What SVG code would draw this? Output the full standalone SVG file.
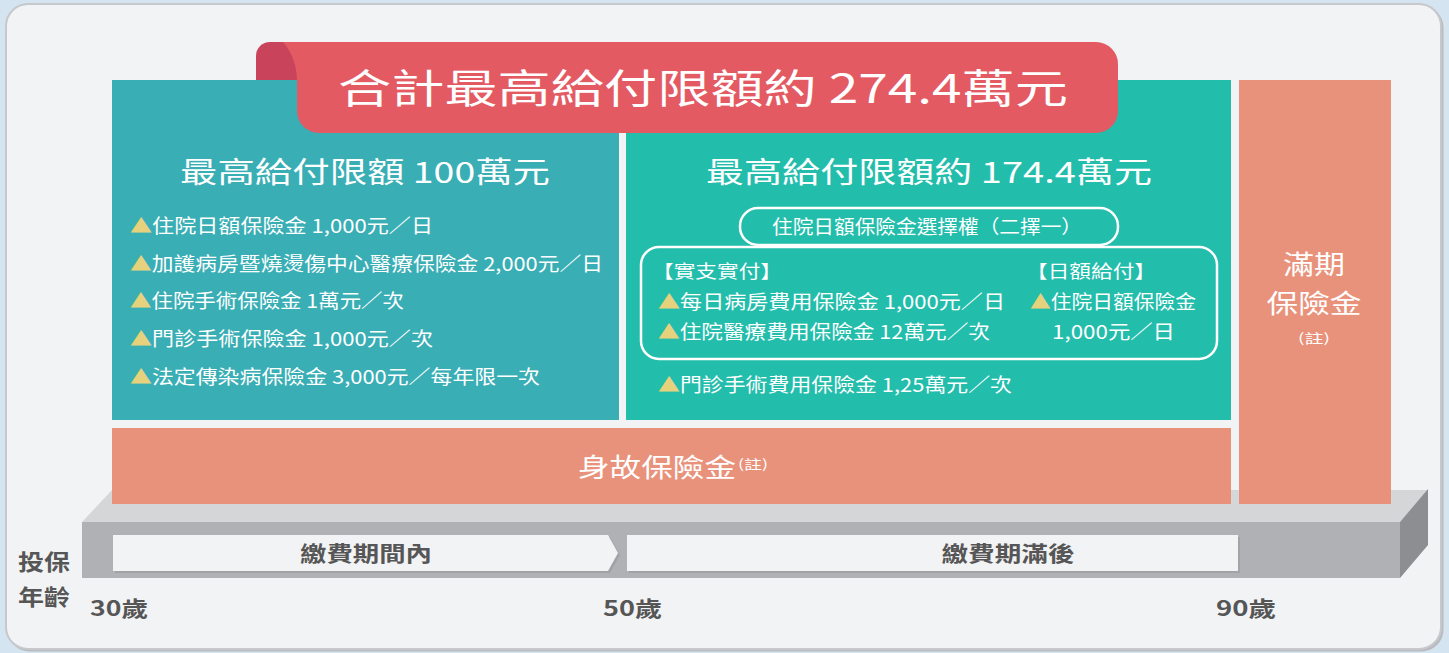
<svg xmlns="http://www.w3.org/2000/svg" width="1449" height="653" viewBox="0 0 1449 653">
<style>
.cjk{font-family:"Noto Sans CJK TC","Noto Sans CJK SC","Liberation Sans",sans-serif;}
.w{fill:#ffffff;}
.g{fill:#565656;font-weight:bold;}
.tri{fill:#e6d27c;}
.li{font-size:19px;}
.ttl{font-size:29px;}
.out{fill:none;stroke:#ffffff;stroke-width:2.5;}
</style>
<rect x="0" y="0" width="1449" height="653" fill="#d4e4f1"/>
<g id="frame">
<rect x="7.5" y="5.5" width="1436" height="646" rx="22" fill="#b9bbbe"/>
<rect x="6" y="4" width="1435" height="645" rx="22" fill="#f2f3f5" stroke="#c6c8cb" stroke-width="2"/>
</g>
<g id="platform">
<polygon points="82,522 112,490 1428,490 1400,522" fill="#d5d6d8"/>
<rect x="82" y="522" width="1318" height="56" fill="#b0b1b4"/>
<polygon points="1400,522 1428,489 1428,545 1400,578" fill="#8d8e91"/>
</g>
<g id="band-pay">
<polygon points="115,537 610,537 620,555 610,573 115,573" fill="#a2a3a6"/>
<polygon points="113,535 608,535 618,553 608,571 113,571" fill="#f2f3f5"/>
<text class="cjk g" x="366" y="561" font-size="21" text-anchor="middle" textLength="132" lengthAdjust="spacingAndGlyphs">繳費期間內</text>
</g>
<g id="band-after">
<rect x="629" y="537" width="611" height="36" fill="#a2a3a6"/>
<rect x="627" y="535" width="611" height="36" fill="#f2f3f5"/>
<text class="cjk g" x="1008" y="561" font-size="21" text-anchor="middle" textLength="133" lengthAdjust="spacingAndGlyphs">繳費期滿後</text>
</g>
<g id="age-labels">
<text class="cjk g" x="18" y="570" font-size="22" textLength="52" lengthAdjust="spacingAndGlyphs">投保</text>
<text class="cjk g" x="18" y="605" font-size="22" textLength="52" lengthAdjust="spacingAndGlyphs">年齡</text>
<text class="cjk g" x="90" y="616" font-size="21" textLength="58" lengthAdjust="spacingAndGlyphs">30歲</text>
<text class="cjk g" x="603" y="616" font-size="21" textLength="59" lengthAdjust="spacingAndGlyphs">50歲</text>
<text class="cjk g" x="1216" y="616" font-size="21" textLength="60" lengthAdjust="spacingAndGlyphs">90歲</text>
</g>
<g id="death-benefit">
<rect x="112" y="428" width="1119" height="76" fill="#e9927b"/>
<text class="cjk w" x="578" y="477" font-size="26" textLength="158" lengthAdjust="spacingAndGlyphs">身故保險金</text>
<text class="cjk w" x="738" y="469" font-size="13" textLength="30" lengthAdjust="spacingAndGlyphs">(註)</text>
</g>
<g id="maturity-benefit">
<rect x="1239" y="80" width="152" height="424" fill="#e9927b"/>
<text class="cjk w" x="1314" y="274" font-size="26" text-anchor="middle" textLength="62" lengthAdjust="spacingAndGlyphs">滿期</text>
<text class="cjk w" x="1314" y="313" font-size="26" text-anchor="middle" textLength="95" lengthAdjust="spacingAndGlyphs">保險金</text>
<text class="cjk w" x="1314" y="343" font-size="13" text-anchor="middle" textLength="32" lengthAdjust="spacingAndGlyphs">(註)</text>
</g>
<rect id="banner-back" x="256" y="42" width="70" height="70" rx="14" fill="#c9445b"/>
<g id="left-box">
<rect x="112" y="80" width="507" height="340" fill="#39aeb5"/>
<text class="cjk w ttl" x="180" y="183" textLength="370" lengthAdjust="spacingAndGlyphs">最高給付限額 100萬元</text>
<text class="cjk w li" x="130" y="233" textLength="303" lengthAdjust="spacingAndGlyphs"><tspan class="tri">▲</tspan>住院日額保險金 1,000元／日</text>
<text class="cjk w li" x="130" y="271" textLength="473" lengthAdjust="spacingAndGlyphs"><tspan class="tri">▲</tspan>加護病房暨燒燙傷中心醫療保險金 2,000元／日</text>
<text class="cjk w li" x="130" y="308" textLength="274" lengthAdjust="spacingAndGlyphs"><tspan class="tri">▲</tspan>住院手術保險金 1萬元／次</text>
<text class="cjk w li" x="130" y="346" textLength="303" lengthAdjust="spacingAndGlyphs"><tspan class="tri">▲</tspan>門診手術保險金 1,000元／次</text>
<text class="cjk w li" x="130" y="384" textLength="410" lengthAdjust="spacingAndGlyphs"><tspan class="tri">▲</tspan>法定傳染病保險金 3,000元／每年限一次</text>
</g>
<g id="right-box">
<rect x="626" y="80" width="605" height="340" fill="#23bdac"/>
<text class="cjk w ttl" x="706" y="183" textLength="446" lengthAdjust="spacingAndGlyphs">最高給付限額約 174.4萬元</text>
</g>
<g id="option-pill">
<rect class="out" x="740" y="208" width="378" height="37" rx="18"/>
<text class="cjk w" x="772" y="234" font-size="19" textLength="310" lengthAdjust="spacingAndGlyphs">住院日額保險金選擇權（二擇一）</text>
</g>
<g id="option-box">
<rect class="out" x="641" y="247" width="576" height="112" rx="18"/>
<text class="cjk w" x="652" y="278" font-size="18" textLength="130" lengthAdjust="spacingAndGlyphs">【實支實付】</text>
<text class="cjk w" x="1026" y="278" font-size="18" textLength="130" lengthAdjust="spacingAndGlyphs">【日額給付】</text>
<text class="cjk w li" x="658" y="309" textLength="347" lengthAdjust="spacingAndGlyphs"><tspan class="tri">▲</tspan>每日病房費用保險金 1,000元／日</text>
<text class="cjk w li" x="1030" y="309" textLength="166" lengthAdjust="spacingAndGlyphs"><tspan class="tri">▲</tspan>住院日額保險金</text>
<text class="cjk w li" x="658" y="339" textLength="332" lengthAdjust="spacingAndGlyphs"><tspan class="tri">▲</tspan>住院醫療費用保險金 12萬元／次</text>
<text class="cjk w li" x="1052" y="339" textLength="123" lengthAdjust="spacingAndGlyphs">1,000元／日</text>
</g>
<g id="outpatient">
<text class="cjk w li" x="658" y="392" textLength="354" lengthAdjust="spacingAndGlyphs"><tspan class="tri">▲</tspan>門診手術費用保險金 1,25萬元／次</text>
</g>
<g id="banner">
<path d="M283,42 H1096 A22,22 0 0 1 1118,64 V111 A22,22 0 0 1 1096,133 H319 A22,22 0 0 1 297,111 V82 Q297,58 283,42 Z" fill="#e45a63"/>
<text class="cjk w" x="338" y="103" font-size="40" font-weight="400" textLength="730" lengthAdjust="spacingAndGlyphs">合計最高給付限額約 274.4萬元</text>
</g>
</svg>
